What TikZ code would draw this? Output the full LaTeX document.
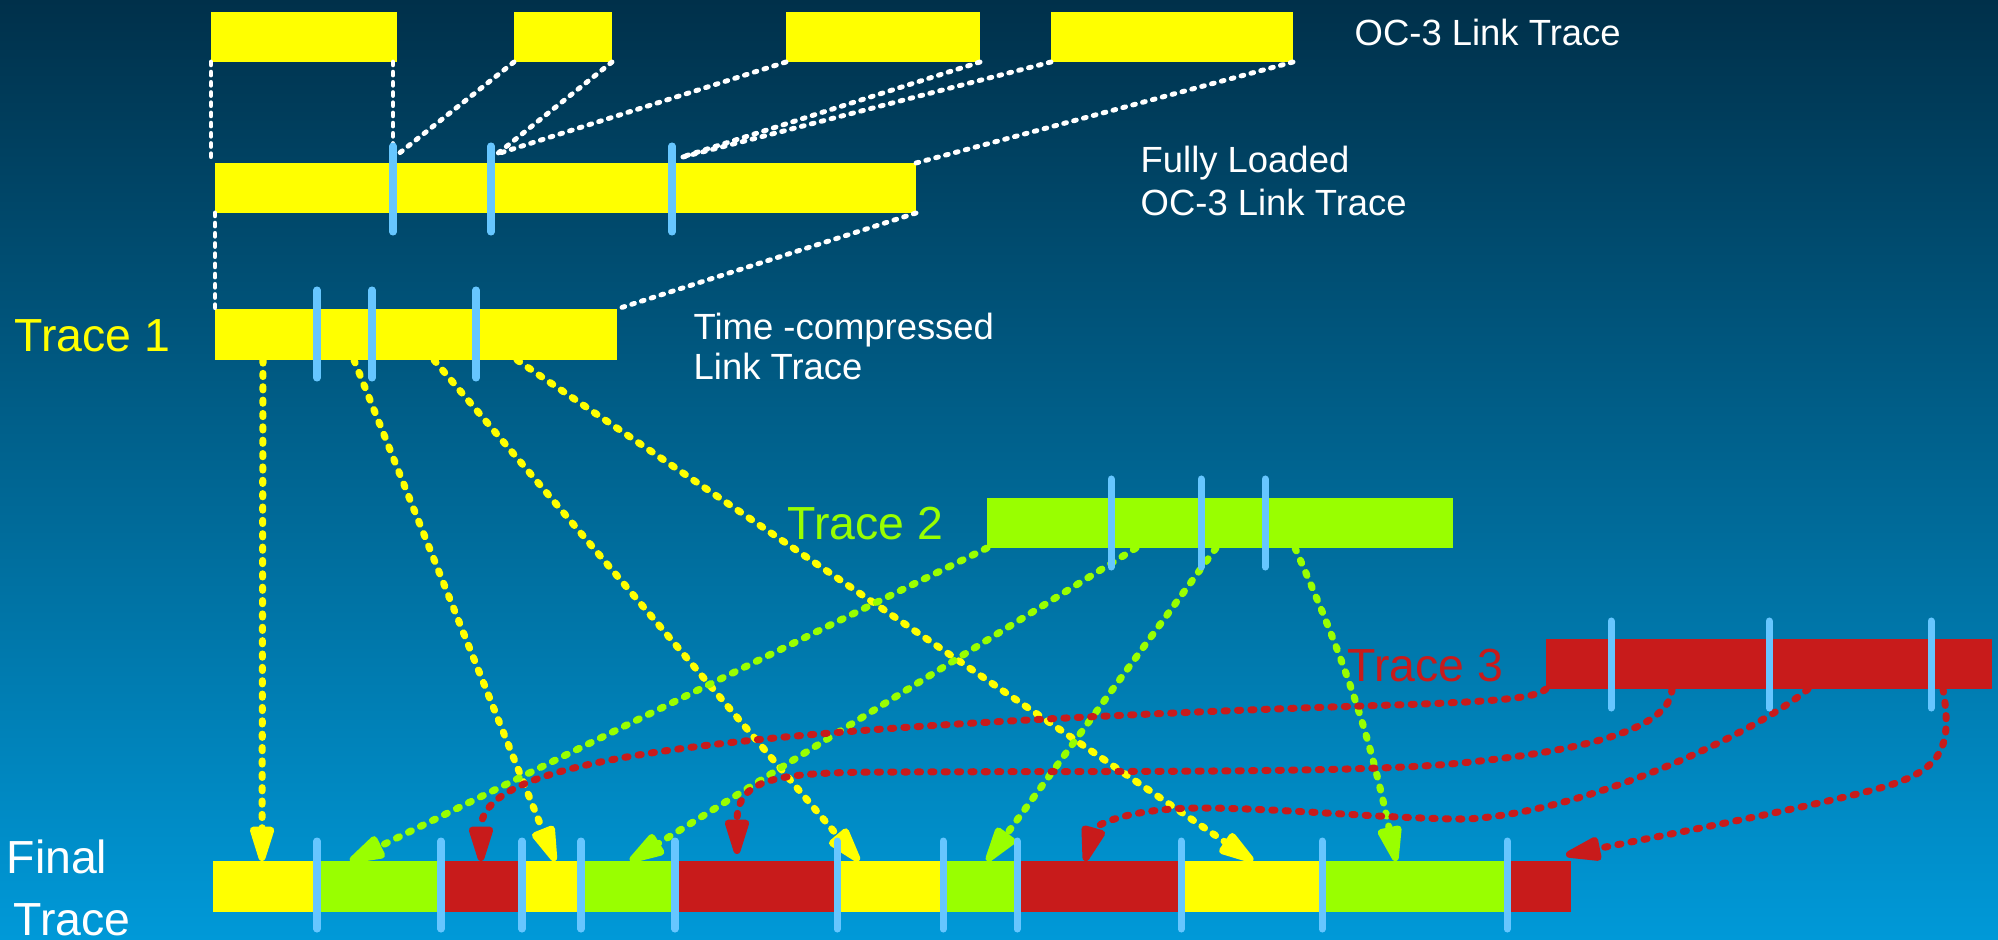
\documentclass[tikz,border=0pt]{standalone}
\usepackage{fontspec}
\setmainfont{Liberation Sans}
\usetikzlibrary{arrows.meta,fit,calc}
\definecolor{bgtop}{HTML}{00304A}
\definecolor{bgbot}{HTML}{0099D8}
\definecolor{ylw}{HTML}{FFFF00}
\definecolor{grn}{HTML}{99FF00}
\definecolor{rd}{HTML}{C81B1B}
\definecolor{tickc}{HTML}{66C6FF}
\begin{document}
\begin{tikzpicture}[x=0.01cm,y=-0.01cm,
  bar/.style={fill=#1, draw=none, inner sep=0pt, outer sep=0pt},
  tickline/.style={draw=tickc, line width=2pt, line cap=round},
  wdot/.style={draw=white, line width=1.4pt, line cap=round, dash pattern=on 0.8pt off 2.1pt},
  conn/.style={draw=#1, line width=2pt, line cap=round, dash pattern=on 0.9pt off 2.9pt,
    -{Triangle[length=12.5pt,width=7pt,round]}},
  lbl/.style={text=white, font=\fontsize{10.36pt}{12pt}\selectfont, anchor=base west, inner sep=0pt},
  biglbl/.style={font=\fontsize{13.2pt}{15pt}\selectfont, anchor=base west, inner sep=0pt},
]
\useasboundingbox (0,0) rectangle (1998,939);
\clip (0,0) rectangle (1998,939);
\shade[top color=bgtop, bottom color=bgbot] (0,0) rectangle (1998,939);

% bars
\node[bar=ylw, fit={(211,12) (397,62)}] (A) {};
\node[bar=ylw, fit={(514,12) (612,62)}] (B) {};
\node[bar=ylw, fit={(786,12) (980,62)}] (C) {};
\node[bar=ylw, fit={(1051,12) (1293,62)}] (D) {};
\node[bar=ylw, fit={(215,163) (916,213)}] (F) {};
\node[bar=ylw, fit={(215,309) (617,360)}] (T1) {};
\node[bar=grn, fit={(987,498) (1453,548)}] (T2) {};
\node[bar=rd,  fit={(1546,639) (1992,689)}] (T3) {};

\node[bar=ylw, fit={(213,861) (317,912)}] (FS1) {};
\node[bar=grn, fit={(317,861) (441,912)}] (FS2) {};
\node[bar=rd,  fit={(441,861) (522,912)}] (FS3) {};
\node[bar=ylw, fit={(522,861) (581,912)}] (FS4) {};
\node[bar=grn, fit={(581,861) (675,912)}] (FS5) {};
\node[bar=rd,  fit={(675,861) (837,912)}] (FS6) {};
\node[bar=ylw, fit={(837,861) (943,912)}] (FS7) {};
\node[bar=grn, fit={(943,861) (1017,912)}] (FS8) {};
\node[bar=rd,  fit={(1017,861) (1181,912)}] (FS9) {};
\node[bar=ylw, fit={(1181,861) (1322,912)}] (FS10) {};
\node[bar=grn, fit={(1322,861) (1507,912)}] (FS11) {};
\node[bar=rd,  fit={(1507,861) (1571,912)}] (FS12) {};

% white dotted mapping lines
\coordinate (f1t) at (393,145);
\coordinate (c1) at (397,155);
\coordinate (c2) at (497,154);
\coordinate (c3) at (679,158);
\draw[wdot] (A.south west) -- (A.south west |- F.north);
\draw[wdot] (f1t |- A.south) -- (f1t);
\draw[wdot] (B.south west) -- (c1);
\draw[wdot] (B.south east) -- (c2);
\draw[wdot] (C.south west) -- (c2);
\draw[wdot] (C.south east) -- (c3);
\draw[wdot] (D.south west) -- (c3);
\draw[wdot] (D.south east) -- (F.north east);
\draw[wdot] (F.south west) -- (T1.north west);
\draw[wdot] (F.south east) -- (T1.north east);

% yellow connectors
\draw[conn=ylw] (263,0 |- T1.south) -- (262,0 |- FS1.north);
\draw[conn=ylw] (354,0 |- T1.south) -- (555,0 |- FS4.north);
\draw[conn=ylw] (434,0 |- T1.south) -- (859,0 |- FS7.north);
\draw[conn=ylw] (517,0 |- T1.south) -- (1253,0 |- FS10.north);

% green connectors
\draw[conn=grn] (T2.south west) -- (350,0 |- FS2.north);
\draw[conn=grn] (1136,0 |- T2.south) -- (630,0 |- FS5.north);
\draw[conn=grn] (1216,0 |- T2.south) -- (987,0 |- FS8.north);
\draw[conn=grn] (1295,0 |- T2.south) to[bend left=6] (1396,0 |- FS11.north);

% red connectors
\draw[conn=rd] (T3.south west) .. controls (1533,702) and (1450,703) .. (1300,708)
  .. controls (700,730) and (481,760) .. (481,0 |- FS3.north);
\draw[conn=rd] (1672,0 |- T3.south) .. controls (1670,730) and (1580,752) .. (1450,764)
  .. controls (1350,773) and (1100,771) .. (900,772)
  .. controls (780,772) and (737,776) .. ($(737,0 |- FS6.north)+(0,-7)$);
\draw[conn=rd] (1808,0 |- T3.south) .. controls (1760,730) and (1590,812) .. (1467,819)
  .. controls (1390,819) and (1280,808) .. (1200,808)
  .. controls (1130,808) and (1095,825) .. (1085,0 |- FS9.north);
\draw[conn=rd] (1943,0 |- T3.south) .. controls (1952,745) and (1945,770) .. (1880,788)
  .. controls (1815,806) and (1680,832) .. ($(1566,0 |- FS12.north)+(0,-6)$);

% ticks
\foreach \x in {393,491,672} \draw[tickline] (\x,146) -- (\x,232);
\foreach \x in {317,372,476} \draw[tickline] (\x,290) -- (\x,378);
\foreach \x in {1111,1201,1265} \draw[tickline] (\x,479) -- (\x,567);
\foreach \x in {1611,1769,1931} \draw[tickline] (\x,621) -- (\x,708);
\foreach \x in {317,441,522,581,675,837,943,1017,1181,1322,1507} \draw[tickline] (\x,841) -- (\x,929);

% labels
\node[lbl] (oc3) at (1354,45) {OC-3 Link Trace};
\node[lbl] (fl1) at (1140,172) {Fully Loaded};
\node[lbl] (fl2) at (1140,215) {OC-3 Link Trace};
\node[lbl] (tc1) at (693,339) {Time -compressed};
\node[lbl] (tc2) at (693,379) {Link Trace};
\node[biglbl, text=ylw] (t1) at (14,351) {Trace 1};
\node[biglbl, text=grn] (t2) at (787,539) {Trace 2};
\node[biglbl, text=rd] (t3) at (1347,681) {Trace 3};
\node[biglbl, text=white] (ft1) at (6,873) {Final};
\node[biglbl, text=white] (ft2) at (13,935) {Trace};
\end{tikzpicture}
\end{document}
